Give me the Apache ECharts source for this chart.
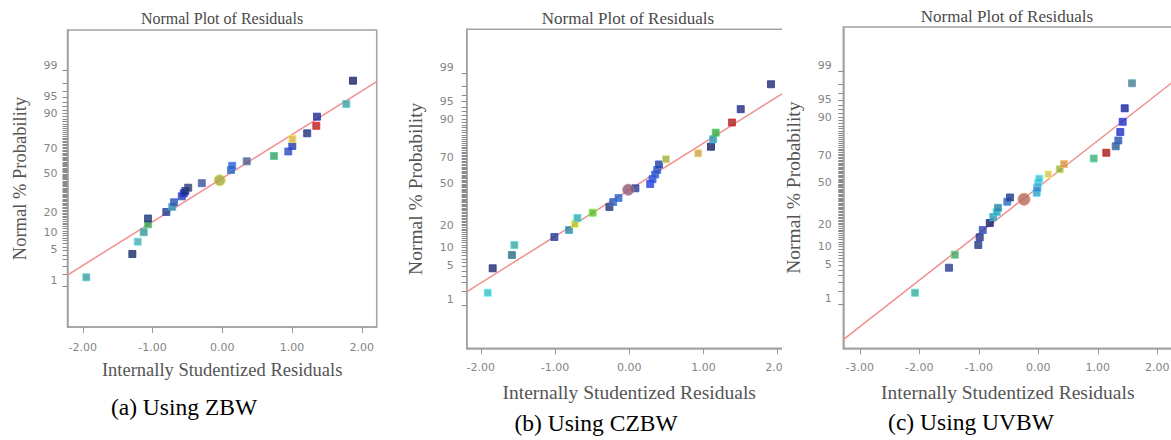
<!DOCTYPE html>
<html><head><meta charset="utf-8">
<script src="https://cdn.jsdelivr.net/npm/echarts@6/dist/echarts.min.js"></script>
<style>
html,body{margin:0;padding:0;background:#fff;width:1171px;height:440px;overflow:hidden}
.p{position:absolute;top:0;height:440px;overflow:hidden;background:#fff}
</style></head><body>
<div id="pa" class="p" style="left:0;width:390px"></div>
<div id="pb" class="p" style="left:390px;width:392px"></div>
<div id="pc" class="p" style="left:782px;width:389px"></div>
<script>
// ---------- data ----------
// x: internally studentized residual, y: expected normal score (probit of normal % probability)
const residualsA = [-1.950,-1.290,-1.213,-1.127,-1.065,-1.065,-0.803,-0.718,-0.692,-0.582,-0.553,-0.530,-0.489,-0.294,0.125,0.142,0.350,0.741,0.946,1.004,1.006,1.217,1.348,1.358,1.778,1.874];
const scoresA    = [-2.129,-1.627,-1.362,-1.157,-0.987,-0.862,-0.722,-0.610,-0.513,-0.384,-0.319,-0.269,-0.198,-0.101,0.183,0.274,0.371,0.485,0.582,0.700,0.851,0.974,1.136,1.332,1.606,2.108];
const centerA    = [-0.037,-0.039];
const fitLineA   = [[-2.22,-2.08],[2.214,2.086]];

const residualsB = [-1.907,-1.840,-1.581,-1.547,-1.008,-0.811,-0.732,-0.698,-0.492,-0.267,-0.216,-0.144,0.084,0.283,0.314,0.350,0.377,0.402,0.495,0.930,1.102,1.132,1.166,1.385,1.503,1.911];
const scoresB    = [-2.085,-1.595,-1.328,-1.128,-0.967,-0.827,-0.706,-0.586,-0.480,-0.365,-0.265,-0.185,0.010,0.096,0.193,0.287,0.377,0.488,0.592,0.712,0.845,0.993,1.126,1.330,1.597,2.097];
const centerB    = [-0.013,-0.018];
const fitLineB   = [[-2.19,-2.068],[2.19,2.028]];

const residualsC = [-2.072,-1.501,-1.403,-1.008,-0.985,-0.934,-0.815,-0.756,-0.699,-0.677,-0.521,-0.476,-0.027,-0.017,-0.005,0.017,0.168,0.360,0.432,0.931,1.143,1.301,1.345,1.378,1.418,1.452,1.575];
const scoresC    = [-2.093,-1.595,-1.336,-1.142,-0.989,-0.844,-0.704,-0.585,-0.489,-0.401,-0.280,-0.196,-0.101,-0.003,0.097,0.178,0.266,0.368,0.471,0.581,0.696,0.824,0.939,1.109,1.312,1.581,2.079];
const centerC    = [-0.240,-0.232];
const fitLineC   = [[-3.277,-3.028],[2.252,2.098]];

// tick labels
const probLabels = [1,5,10,20,50,70,90,95,99];
const xTicksAB   = [-2,-1,0,1,2];
const xTicksC    = [-3,-2,-1,0,1,2];
const panelTitle = 'Normal Plot of Residuals';
const xName = 'Internally Studentized Residuals';
const yName = 'Normal % Probability';
const captions = ['(a) Using ZBW','(b) Using CZBW','(c) Using UVBW'];

// point colours (style)
const colorsA = ['#3d9a9e','#1c2a5e','#4aa6ae','#3a9090','#3f9a55','#1f3570','#253a8a','#2f8aa0','#2850a8','#2a3fa8','#1f2fa0','#1b2a80','#283a6a','#3a4f90','#2c5cb0','#2f60c0','#4a5a8a','#3a9a6a','#3048b0','#2438a8','#d8b040','#1f2f78','#b01c1c','#1f2c8a','#3f9a9f','#1a2060'];
const colorsB = ['#3ab8c0','#1c2a6a','#2a6a78','#3aa5a0','#25358a','#2a80a0','#b8c030','#35a8b0','#5ab830','#26386e','#2a5ab0','#2a60b8','#2a3a8a','#2840d0','#2a48c8','#2a55c0','#2a50b8','#1f3fa0','#a0a850','#c8a050','#142060','#2a90b0','#3aa040','#a02020','#1f2a7a','#1f2a6a'];
const colorsC = ['#3aa89a','#2a3a80','#4aa060','#25357a','#203080','#2a45a0','#142060','#2a90a8','#30a0b0','#2a80a0','#2a6ab0','#203a80','#30a0c0','#3080c0','#40b0d0','#40b8c8','#d0c060','#90b040','#d09050','#40a878','#a01818','#2a5a8a','#2a50a0','#2030b0','#2030c0','#1a2490','#4a7a90'];

// ---------- helpers ----------
function probit(p){
  const a=[-3.969683028665376e+01,2.209460984245205e+02,-2.759285104469687e+02,1.383577518672690e+02,-3.066479806614716e+01,2.506628277459239e+00];
  const b=[-5.447609879822406e+01,1.615858368580409e+02,-1.556989798598866e+02,6.680131188771972e+01,-1.328068155288572e+01];
  const c=[-7.784894002430293e-03,-3.223964580411365e-01,-2.400758277161838e+00,-2.549732539343734e+00,4.374664141464968e+00,2.938163982698783e+00];
  const d=[7.784695709041462e-03,3.224671290700398e-01,2.445134137142996e+00,3.754408661907416e+00];
  const lo=0.02425, hi=1-lo; let q,r;
  if(p<lo){q=Math.sqrt(-2*Math.log(p));return (((((c[0]*q+c[1])*q+c[2])*q+c[3])*q+c[4])*q+c[5])/((((d[0]*q+d[1])*q+d[2])*q+d[3])*q+1);}
  if(p<=hi){q=p-0.5;r=q*q;return (((((a[0]*r+a[1])*r+a[2])*r+a[3])*r+a[4])*r+a[5])*q/(((((b[0]*r+b[1])*r+b[2])*r+b[3])*r+b[4])*r+1);}
  q=Math.sqrt(-2*Math.log(1-p));return -(((((c[0]*q+c[1])*q+c[2])*q+c[3])*q+c[4])*q+c[5])/((((d[0]*q+d[1])*q+d[2])*q+d[3])*q+1);
}
const minorTickPercents = [];
for(let i=1;i<=99;i++) minorTickPercents.push(i);
const labelZ = probLabels.map(p=>probit(p/100));
const minorZ = minorTickPercents.map(p=>probit(p/100));
function zLabel(v){
  for(let i=0;i<labelZ.length;i++) if(Math.abs(labelZ[i]-v)<1e-6) return String(probLabels[i]);
  return '';
}
const darker = c => echarts.color.lift(c,-0.35);

function panel(id, cfg){
  const chart = echarts.init(document.getElementById(id), null, {renderer:'svg'});
  const pts = cfg.res.map((x,i)=>({value:[x,cfg.z[i]], itemStyle:{color:cfg.colors[i], borderColor:darker(cfg.colors[i]), borderWidth:1}}));
  const nameStyle = {fontFamily:'Liberation Serif', fontSize:cfg.nameSize, color:'#555'};
  chart.setOption({
    animation:false,
    grid:{left:cfg.left, top:cfg.top, width:cfg.width, height:cfg.height, show:true, borderColor:'#a3a3a3', borderWidth:1.5, containLabel:false, outerBoundsMode:'none'},
    xAxis:{type:'value', min:cfg.xmin, max:cfg.xmax,
      axisLine:{show:true, onZero:false, lineStyle:{color:'#a3a3a3', width:1.5}},
      axisTick:{show:true, customValues:cfg.xticks, length:6, lineStyle:{color:'#999'}},
      axisLabel:{customValues:cfg.xticks, formatter:v=>v.toFixed(2), margin:cfg.xLabelMargin, color:'#858585', fontSize:11, fontFamily:'DejaVu Sans'},
      splitLine:{show:false},
      name:xName, nameLocation:'middle', nameGap:cfg.xNameGap, nameTextStyle:nameStyle},
    yAxis:{type:'value', min:-3.2, max:3.2,
      axisLine:{show:true, onZero:false, lineStyle:{color:'#a3a3a3', width:1.5}},
      axisTick:{show:true, customValues:minorZ, length:5, lineStyle:{color:'#8a8a8a'}},
      axisLabel:{customValues:labelZ, formatter:zLabel, margin:cfg.yLabelMargin, verticalAlign:'bottom', color:'#858585', fontSize:11, fontFamily:'DejaVu Sans'},
      splitLine:{show:false},
      name:yName, nameLocation:'middle', nameGap:cfg.yNameGap, nameTextStyle:nameStyle},
    graphic:[
      {type:'text', x:cfg.titleX, y:cfg.titleY, style:{text:panelTitle, fill:'#4a4a4a', font:cfg.titleSize+'px "Liberation Serif"', align:'center', verticalAlign:'middle'}},
      {type:'text', x:cfg.capX, y:cfg.capY, style:{text:cfg.caption, fill:'#000', font:'23.5px "Liberation Serif"', align:'center', verticalAlign:'middle'}}
    ],
    series:[
      {type:'line', data:cfg.line, symbol:'none', silent:true, lineStyle:{color:'#ef8f8f', width:1.5}, z:1},
      {type:'scatter', data:pts, symbol:'rect', symbolSize:7, z:3},
      {type:'scatter', data:[{value:cfg.center, itemStyle:{color:cfg.centerColor, borderColor:darker(cfg.centerColor), borderWidth:1}}], symbol:'circle', symbolSize:cfg.centerSize, z:4}
    ]
  });
}

panel('pa',{res:residualsA, z:scoresA, colors:colorsA, center:centerA, centerColor:'#a4a63a', centerSize:11, line:fitLineA,
  left:67.5, top:30, width:309.2, height:297, xmin:-2.22, xmax:2.214, xticks:xTicksAB,
  xLabelMargin:15, yLabelMargin:10, xNameGap:33, yNameGap:38, nameSize:18.5,
  titleX:222, titleY:18, titleSize:16, caption:captions[0], capX:184, capY:407});
panel('pb',{res:residualsB, z:scoresB, colors:colorsB, center:centerB, centerColor:'#8a5a70', centerSize:11, line:fitLineB,
  left:76.7, top:29.3, width:325, height:319, xmin:-2.19, xmax:2.19, xticks:xTicksAB,
  xLabelMargin:14, yLabelMargin:13, xNameGap:34, yNameGap:41, nameSize:19.5,
  titleX:238, titleY:18.3, titleSize:17, caption:captions[1], capX:206, capY:423});
panel('pc',{res:residualsC, z:scoresC, colors:colorsC, center:centerC, centerColor:'#b06a5a', centerSize:12, line:fitLineC,
  left:61.3, top:27, width:329, height:321.3, xmin:-3.277, xmax:2.252, xticks:xTicksC,
  xLabelMargin:14, yLabelMargin:11.5, xNameGap:34, yNameGap:40, nameSize:19.5,
  titleX:225, titleY:16.7, titleSize:17, caption:captions[2], capX:189, capY:421.7});
</script></body></html>
